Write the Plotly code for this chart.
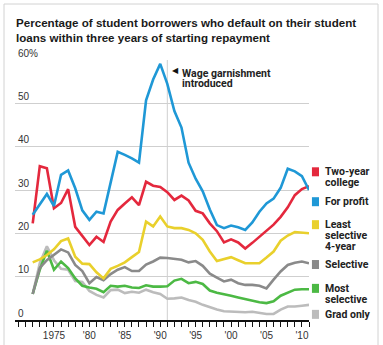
import plotly.graph_objects as go

years = list(range(1972, 2012))

two_year = [22.3, 35.5, 35.0, 25.8, 27.0, 30.2, 21.5, 19.4, 17.3, 19.2,
            18.0, 22.7, 25.4, 26.9, 28.3, 26.5, 31.9, 31.0, 30.7, 29.5,
            27.7, 28.7, 27.6, 25.2, 24.6, 22.3, 20.5, 17.9, 18.6, 17.9,
            16.5, 17.8, 19.2, 20.5, 22.0, 23.8, 26.0, 28.8, 30.2, 30.9]
for_profit = [24.3, 26.7, 29.1, 26.3, 33.5, 34.5, 30.4, 25.3, 23.1, 25.0,
              24.6, 31.7, 38.8, 38.1, 37.3, 36.3, 50.7, 55.5, 59.1, 54.5,
              48.2, 44.4, 36.3, 32.6, 29.7, 25.5, 21.9, 21.2, 21.8, 21.4,
              20.8, 22.5, 25.0, 26.9, 28.0, 30.5, 34.9, 34.3, 33.2, 30.0]
least_selective = [13.3, 14.0, 15.0, 16.3, 18.2, 18.8, 14.6, 13.0, 12.9, 11.0,
                   9.6, 11.8, 12.5, 13.3, 14.5, 15.7, 22.7, 21.6, 23.9, 21.6,
                   21.2, 21.2, 20.8, 20.0, 18.5, 15.8, 13.6, 14.1, 14.5, 13.8,
                   13.1, 13.1, 13.1, 14.4, 15.8, 18.3, 19.5, 20.3, 20.1, 20.0]
selective = [6.0, 12.0, 13.8, 15.0, 16.3, 15.6, 12.7, 11.3, 8.5, 9.9,
             9.2, 10.6, 11.6, 12.2, 11.3, 11.3, 12.8, 13.5, 14.4, 14.3,
             14.1, 13.9, 13.3, 13.6, 12.5, 10.7, 9.8, 8.9, 9.3, 8.5,
             8.1, 8.1, 7.9, 7.3, 9.3, 11.2, 12.7, 13.2, 13.5, 13.1]
most_selective = [6.0, 11.6, 16.0, 11.6, 13.5, 12.0, 9.6, 7.9, 7.5, 7.2,
                  6.4, 7.9, 7.7, 7.9, 7.5, 7.4, 8.0, 7.7, 7.7, 7.8,
                  9.1, 9.5, 8.5, 8.8, 8.3, 6.8, 6.3, 6.0, 5.6, 5.2,
                  4.8, 4.4, 4.1, 3.9, 4.3, 5.6, 6.3, 7.0, 7.1, 7.1]
grad_only = [6.0, 13.1, 17.0, 13.8, 11.8, 11.6, 9.0, 8.8, 6.7, 5.8,
             5.2, 6.9, 7.0, 6.2, 6.5, 6.3, 7.0, 6.4, 6.0, 4.9,
             5.0, 5.2, 4.6, 4.2, 3.5, 2.9, 2.4, 2.0, 1.9, 1.9,
             1.8, 1.9, 1.7, 1.4, 1.4, 2.4, 3.1, 3.1, 3.3, 3.5]

y_ticks = [0, 10, 20, 30, 40, 50, 60]
y_tick_text = ["0", "10", "20", "30", "40", "50", "60%"]
x_ticks = [1975, 1980, 1985, 1990, 1995, 2000, 2005, 2010]
x_tick_text = ["1975", "'80", "'85", "'90", "'95", "'00", "'05", "'10"]

event_year = 1991
event_lines = ["Wage garnishment", "introduced"]

series = [
    ("Grad only", grad_only, "#bcbcbc", ["Grad only"], 1.3),
    ("Most selective", most_selective, "#4cb944", ["Most", "selective"], 7.3),
    ("Selective", selective, "#8a8a8a", ["Selective"], 12.8),
    ("Least selective 4-year", least_selective, "#e9d02c", ["Least", "selective", "4-year"], 22.0),
    ("Two-year college", two_year, "#e4283d", ["Two-year", "college"], 34.2),
    ("For profit", for_profit, "#1f98d6", ["For profit"], 27.3),
]

TXT = "#222222"
F_TITLE = dict(family="Liberation Sans", size=11.6, color="#1a1a1a", weight="bold")
F_LEG = dict(family="Roboto", size=10.5, color=TXT, weight="bold")
F_ANN = dict(family="Roboto", size=10.5, color=TXT, weight="bold")
F_TICK = dict(family="Liberation Sans", size=10, color="#333333")

fig = go.Figure()
for name, vals, color, _, _ in series:
    fig.add_trace(go.Scatter(x=years, y=vals, mode="lines", name=name,
                             line=dict(color=color, width=2.6), showlegend=False,
                             hoverinfo="skip"))

unit = 60 / 260.0
line_h = 10.7 * unit

annotations = []
shapes = []
for name, vals, color, lines, ysq in series:
    shapes.append(dict(type="rect", xref="paper", yref="y",
                       x0=1.010, x1=1.034, y0=ysq - 4.5 * unit, y1=ysq + 4.5 * unit,
                       fillcolor=color, line=dict(width=0)))
    for i, ln in enumerate(lines):
        annotations.append(dict(text=ln, xref="paper", yref="y", x=1.046,
                                y=ysq - i * line_h, xanchor="left", yanchor="middle",
                                showarrow=False, font=F_LEG))

shapes.append(dict(type="line", xref="x", yref="paper", x0=event_year, x1=event_year,
                   y0=0, y1=1, line=dict(color="#cfcfcf", width=1), layer="below"))
annotations.append(dict(text="◀", xref="x", yref="y", x=event_year + 0.35, y=57.5,
                        xanchor="left", yanchor="middle", showarrow=False,
                        font=dict(family="DejaVu Sans", size=8, color="#111111")))
for i, ln in enumerate(event_lines):
    annotations.append(dict(text=ln, xref="x", yref="y", x=event_year + 1.75,
                            y=57.0 - i * 10 * unit, xanchor="left", yanchor="middle",
                            showarrow=False, font=F_ANN))

shapes.append(dict(type="rect", xref="paper", yref="paper",
                   x0=(4 - 15) / 294.0, x1=(378 - 15) / 294.0,
                   y0=(320 - 352) / 260.0, y1=(320 - 4) / 260.0,
                   line=dict(color="#d2d2d2", width=1), fillcolor="rgba(0,0,0,0)"))

fig.update_layout(
    width=383, height=345,
    margin=dict(l=15, r=74, t=60, b=25),
    paper_bgcolor="white", plot_bgcolor="white",
    title=dict(text="Percentage of student borrowers who default on their student<br>"
                    "loans within three years of starting repayment",
               x=16 / 383, xanchor="left", y=1 - 27 / 345, yanchor="top",
               font=F_TITLE),
    annotations=annotations, shapes=shapes,
    xaxis=dict(range=[1969.5, 2011.0], tickvals=x_ticks, ticktext=x_tick_text,
               ticks="outside", ticklen=5, tickcolor="#111111", tickwidth=1,
               showline=True, linecolor="#111111", linewidth=1.5,
               showgrid=False, zeroline=False, ticklabelstandoff=0,
               automargin=False,
               minor=dict(tick0=1972, dtick=1, ticks="outside", ticklen=5,
                          tickcolor="#111111", tickwidth=1, showgrid=False),
               tickfont=F_TICK),
    yaxis=dict(range=[0, 60], tickvals=y_ticks, ticktext=y_tick_text,
               ticklabelposition="inside top", ticklabeloverflow="allow",
               ticklabelshift=0, automargin=False,
               showgrid=True, gridcolor="#cfcfcf", gridwidth=1,
               zeroline=False, showline=False, ticks="",
               tickfont=F_TICK),
)

fig.write_html("out.html")
